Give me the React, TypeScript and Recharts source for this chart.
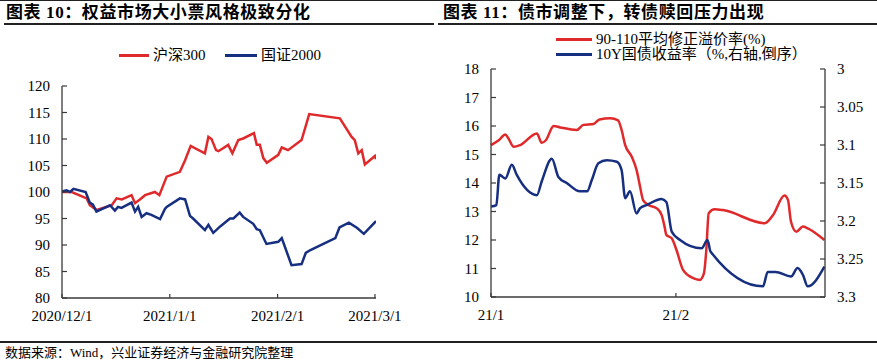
import { LineChart, Line, XAxis, YAxis } from 'recharts';

// 图表10：沪深300 / 国证2000 (2020/12/1 = 0, calendar days)
const hs300Days = [0, 2.8, 7.1, 8, 10, 14.3, 15.7, 17.2, 20, 21, 22.4, 23.9, 26.7, 28, 30.1, 33.9, 35.4, 37, 41.1, 42.1, 43, 44.3, 45, 47.8, 49, 50.7, 52.1, 55.2, 56, 56.9, 57.9, 58.9, 62.2, 63.2, 65, 68.9, 71.1, 79.9, 83.3, 84.2, 85.2, 86.2, 87.1, 90, 90.3];
const hs300Values = [100, 100, 98.8, 97.5, 96.6, 97.5, 98.8, 98.6, 99.4, 97.9, 98.6, 99.4, 100, 99.4, 102.9, 103.8, 106, 108.7, 107.3, 110.4, 110, 107.9, 107.7, 108.9, 107.3, 109.8, 110.1, 111.1, 108.9, 108.9, 106.4, 105.5, 107, 108.4, 107.9, 109.8, 114.7, 113.9, 110.4, 109.8, 107.3, 107.9, 105.2, 106.8, 106.2];

const gz2000Days = [0, 1.3, 2.3, 3.3, 6.8, 8, 8.9, 9.9, 13.8, 15.2, 16.1, 17.1, 20, 21, 21.9, 22.9, 24.3, 25.7, 28.2, 29.6, 30.1, 33.9, 35.4, 36.8, 37.7, 41.1, 42.1, 43.5, 45.5, 48.3, 49.3, 51.1, 52.1, 55, 56, 56.9, 58.8, 62.2, 63.2, 66, 68.9, 70.1, 71.3, 78.6, 79.8, 82.5, 84.9, 86.8, 90.3];
const gz2000Values = [100.1, 100.3, 100, 100.6, 100, 98, 97.6, 96.3, 97.5, 96.5, 97.2, 97, 98, 96.3, 97.2, 95.3, 96, 95.7, 94.9, 96.8, 97.2, 98.8, 98.6, 95.5, 95, 92.8, 93.8, 92.3, 93.5, 95, 95, 96.1, 95.3, 94, 93, 92.8, 90.2, 90.6, 91.3, 86.2, 86.4, 88.5, 89, 91.3, 93.3, 94.2, 93.2, 92.1, 94.5];

const leftTicks = [0, 31, 62, 90];
const leftTickLabels = ['2020/12/1', '2021/1/1', '2021/2/1', '2021/3/1'];
const leftYTicks = [80, 85, 90, 95, 100, 105, 110, 115, 120];

// 图表11：溢价率 / 10Y国债 (21/1 = 0)
const premiumDays = [0, 1.3, 2.4, 2.9, 3.8, 4.9, 7.7, 8.5, 9.2, 10.5, 11.6, 14.4, 15.5, 17.2, 18.2, 20, 21.3, 21.9, 22.5, 23.6, 24.4, 25, 25.5, 26.4, 27.8, 28.6, 29.1, 29.4, 30.3, 31.1, 32.2, 33.9, 35, 35.7, 36.1, 36.5, 37.5, 38.9, 45.9, 47.3, 49.2, 49.8, 50.3, 51.2, 52.3, 53.1, 55.9];
const premiumValues = [15.33, 15.5, 15.7, 15.57, 15.27, 15.33, 15.74, 15.41, 15.5, 16.0, 15.95, 15.86, 16.04, 16.07, 16.23, 16.27, 16.2, 15.86, 15.33, 14.92, 14.46, 13.87, 13.4, 13.23, 13.11, 12.88, 12.47, 12.18, 12.06, 11.65, 10.95, 10.66, 10.6, 10.83, 11.65, 12.94, 13.08, 13.05, 12.59, 12.88, 13.56, 13.4, 12.64, 12.29, 12.47, 12.41, 12.0];

const yieldDays = [0, 0.9, 1.4, 1.8, 2.4, 3.5, 4.3, 7.7, 8.5, 10.2, 11.3, 12.7, 14.9, 16.1, 16.9, 18, 19.4, 21.1, 21.9, 22.5, 23.3, 24.4, 25, 26.1, 28.6, 29.4, 30.3, 31.7, 35.3, 36.3, 36.8, 45.6, 46.4, 47.7, 50.3, 51.4, 52.3, 53.1, 55.9];
const yieldValues = [3.181, 3.179, 3.139, 3.141, 3.144, 3.126, 3.139, 3.166, 3.148, 3.118, 3.142, 3.15, 3.161, 3.161, 3.146, 3.124, 3.12, 3.122, 3.133, 3.17, 3.161, 3.19, 3.183, 3.179, 3.171, 3.175, 3.214, 3.225, 3.236, 3.225, 3.24, 3.286, 3.267, 3.267, 3.273, 3.262, 3.271, 3.286, 3.26];

const rightTicks = [0, 31];
const rightTickLabels = ['21/1', '21/2'];
const rightLeftTicks = [10, 11, 12, 13, 14, 15, 16, 17, 18];
const rightRightTicks = [3, 3.05, 3.1, 3.15, 3.2, 3.25, 3.3];

const zip = (days: number[], vals: number[]) => days.map((d, i) => ({ d, v: vals[i] }));

const hs300Data = zip(hs300Days, hs300Values);
const gz2000Data = zip(gz2000Days, gz2000Values);
const premiumData = zip(premiumDays, premiumValues);
const yieldData = zip(yieldDays, yieldValues);

const RED = '#E0292B';
const BLUE = '#172F80';
const AXIS = '#3a3a3a';
const FONT = '"Liberation Serif", "Times New Roman", "Noto Sans CJK SC", serif';

function YTickLeft(props: any) {
  const { x, y, payload } = props;
  return (
    <g>
      <line x1={x} x2={x + 5} y1={y} y2={y} stroke={AXIS} strokeWidth={1.2} />
      <text x={x - 12} y={y} textAnchor="end" dominantBaseline="central" fontSize={15} fontFamily={FONT} fill="#000">
        {payload.value}
      </text>
    </g>
  );
}

function YTickRight(props: any) {
  const { x, y, payload } = props;
  return (
    <g>
      <line x1={x} x2={x - 5} y1={y} y2={y} stroke={AXIS} strokeWidth={1.2} />
      <text x={x + 12} y={y} textAnchor="start" dominantBaseline="central" fontSize={15} fontFamily={FONT} fill="#000">
        {payload.value}
      </text>
    </g>
  );
}

function makeXTick(ticks: number[], labels: string[]) {
  return (props: any) => {
    const { x, y, payload } = props;
    const label = labels[ticks.indexOf(payload.value)];
    return (
      <g>
        <line x1={x} x2={x} y1={y} y2={y - 4} stroke={AXIS} strokeWidth={1.2} />
        <text x={x} y={y + 18} textAnchor="middle" dominantBaseline="central" fontSize={15} fontFamily={FONT} fill="#000">
          {label}
        </text>
      </g>
    );
  };
}

const LeftXTick = makeXTick(leftTicks, leftTickLabels);
const RightXTick = makeXTick(rightTicks, rightTickLabels);

function LegendItem({ color, label, lineWidth, style }: any) {
  return (
    <div style={{ position: 'absolute', display: 'flex', alignItems: 'center', fontFamily: FONT, fontSize: 15, lineHeight: '16px', color: '#000', whiteSpace: 'nowrap', ...style }}>
      <span style={{ display: 'inline-block', width: lineWidth, height: 3, background: color, marginRight: 4 }} />
      <span>{label}</span>
    </div>
  );
}

const titleStyle: any = {
  position: 'absolute',
  top: 3,
  fontFamily: FONT,
  fontWeight: 'bold',
  fontSize: 17,
  lineHeight: '20px',
  letterSpacing: 0.6,
  color: '#000',
  whiteSpace: 'nowrap',
};

export default function App() {
  return (
    <div style={{ position: 'absolute', left: 0, top: 0, width: 877, height: 360, background: '#fff', overflow: 'hidden' }}>
      <div style={{ position: 'absolute', left: 0, top: 0, width: 877, height: 1, background: '#222' }} />
      <div style={{ ...titleStyle, left: 6 }}>图表 10：权益市场大小票风格极致分化</div>
      <div style={{ ...titleStyle, left: 443 }}>图表 11：债市调整下，转债赎回压力出现</div>
      <div style={{ position: 'absolute', left: 4, top: 23, width: 430, height: 2, background: '#222' }} />
      <div style={{ position: 'absolute', left: 438, top: 23, width: 439, height: 2, background: '#222' }} />

      <LegendItem color={RED} label="沪深300" lineWidth={30} style={{ left: 119, top: 47 }} />
      <LegendItem color={BLUE} label="国证2000" lineWidth={32} style={{ left: 225, top: 47 }} />

      <LegendItem color={RED} label="90-110平均修正溢价率(%)" lineWidth={36} style={{ left: 556, top: 31 }} />
      <LegendItem color={BLUE} label="10Y国债收益率（%,右轴,倒序）" lineWidth={36} style={{ left: 556, top: 46 }} />

      <div style={{ position: 'absolute', left: 0, top: 0 }}>
        <LineChart width={440} height={340} margin={{ top: 86, right: 64, bottom: 12, left: 0 }}>
          <XAxis
            dataKey="d"
            type="number"
            domain={[0, 90.3]}
            ticks={leftTicks}
            interval={0}
            tickSize={0}
            tickMargin={0}
            tickLine={false}
            height={30}
            axisLine={{ stroke: AXIS, strokeWidth: 1.3 }}
            tick={LeftXTick}
            allowDataOverflow
          />
          <YAxis
            type="number"
            domain={[80, 120]}
            ticks={leftYTicks}
            interval={0}
            width={62}
            tickSize={0}
            tickMargin={0}
            tickLine={false}
            axisLine={{ stroke: AXIS, strokeWidth: 1.3 }}
            tick={YTickLeft}
          />
          <Line data={hs300Data} dataKey="v" type="linear" stroke={RED} strokeWidth={2.5} dot={false} isAnimationActive={false} />
          <Line data={gz2000Data} dataKey="v" type="linear" stroke={BLUE} strokeWidth={2.5} dot={false} isAnimationActive={false} />
        </LineChart>
      </div>

      <div style={{ position: 'absolute', left: 440, top: 0 }}>
        <LineChart width={437} height={340} margin={{ top: 69, right: 0, bottom: 13, left: 0 }}>
          <XAxis
            dataKey="d"
            type="number"
            domain={[0, 56]}
            ticks={rightTicks}
            interval={0}
            tickSize={0}
            tickMargin={0}
            tickLine={false}
            height={30}
            axisLine={{ stroke: AXIS, strokeWidth: 1.3 }}
            tick={RightXTick}
          />
          <YAxis
            yAxisId="left"
            type="number"
            domain={[10, 18]}
            ticks={rightLeftTicks}
            interval={0}
            width={51}
            tickSize={0}
            tickMargin={0}
            tickLine={false}
            axisLine={{ stroke: AXIS, strokeWidth: 1.3 }}
            tick={YTickLeft}
          />
          <YAxis
            yAxisId="right"
            orientation="right"
            type="number"
            domain={[3, 3.3]}
            reversed
            ticks={rightRightTicks}
            interval={0}
            width={52}
            tickSize={0}
            tickMargin={0}
            tickLine={false}
            axisLine={{ stroke: AXIS, strokeWidth: 1.3 }}
            tick={YTickRight}
          />
          <Line yAxisId="left" data={premiumData} dataKey="v" type="monotone" stroke={RED} strokeWidth={2.5} dot={false} isAnimationActive={false} />
          <Line yAxisId="right" data={yieldData} dataKey="v" type="monotone" stroke={BLUE} strokeWidth={2.5} dot={false} isAnimationActive={false} />
        </LineChart>
      </div>

      <div style={{ position: 'absolute', left: 0, top: 341, width: 877, height: 2, background: '#222' }} />
      <div style={{ position: 'absolute', left: 5, top: 345, fontFamily: FONT, fontSize: 13, lineHeight: '15px', color: '#000', whiteSpace: 'nowrap' }}>
        数据来源：Wind，兴业证券经济与金融研究院整理
      </div>
    </div>
  );
}
